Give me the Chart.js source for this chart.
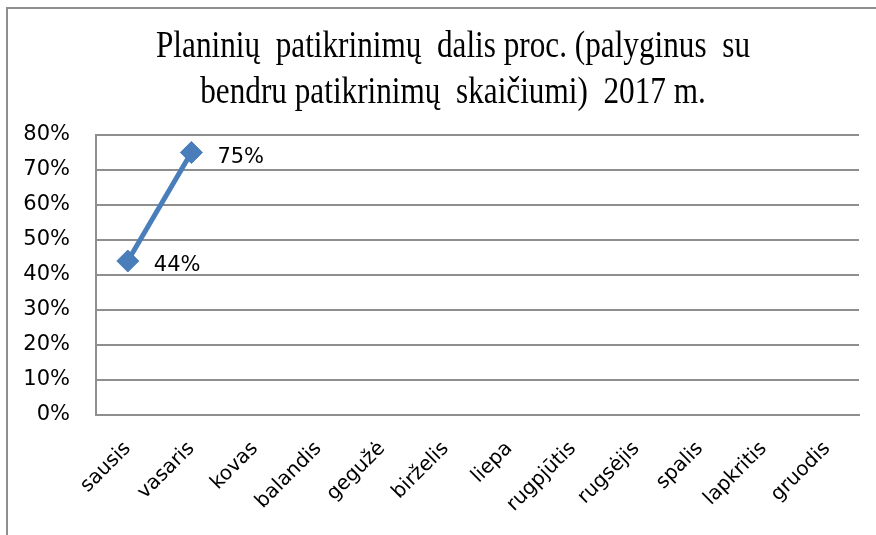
<!DOCTYPE html>
<html>
<head>
<meta charset="utf-8">
<script src="https://cdn.jsdelivr.net/npm/chart.js@4/dist/chart.umd.min.js"></script>
<style>
  html, body { margin: 0; padding: 0; background: #fff; }
  #wrap { position: relative; width: 876px; height: 535px; }
  #frame { position: absolute; left: 6px; top: 7px; width: 880px; height: 540px;
           border-left: 2px solid #8e8e8e; border-top: 2px solid #8e8e8e; pointer-events: none; }
  canvas { position: absolute; left: 0; top: 0; }
</style>
</head>
<body>
<div id="wrap">
  <canvas id="c" width="876" height="535"></canvas>
  <div id="frame"></div>
</div>
<script>
// ---- data ----
const months = ['sausis','vasaris','kovas','balandis','gegužė','birželis','liepa','rugpjūtis','rugsėjis','spalis','lapkritis','gruodis'];
const shares = [0.44, 0.75, null, null, null, null, null, null, null, null, null, null];
const dataLabels = ['44%', '75%'];
const titleLines = ['Planinių  patikrinimų  dalis proc. (palyginus  su', 'bendru patikrinimų  skaičiumi)  2017 m.'];
const yTickMax = 0.8;
const yTickStep = 0.1;

const SANS = 'DejaVu Sans';

const titlePlugin = {
  id: 'scaledTitle',
  afterDraw(chart) {
    const ctx = chart.ctx;
    ctx.save();
    ctx.font = '37px "Liberation Serif"';
    ctx.fillStyle = '#000';
    ctx.textAlign = 'center';
    ctx.textBaseline = 'alphabetic';
    const w1 = ctx.measureText(titleLines[0]).width;
    const sx = 594 / w1;
    const baselines = [57, 103];
    titleLines.forEach((t, i) => {
      ctx.save();
      ctx.translate(453, baselines[i]);
      ctx.scale(sx, 1);
      ctx.fillText(t, 0, 0);
      ctx.restore();
    });
    ctx.restore();
  }
};

const labelPlugin = {
  id: 'pointLabels',
  afterDatasetsDraw(chart) {
    const ctx = chart.ctx;
    const meta = chart.getDatasetMeta(0);
    ctx.save();
    ctx.font = '21px "' + SANS + '"';
    ctx.fillStyle = '#000';
    ctx.textAlign = 'left';
    ctx.textBaseline = 'middle';
    meta.data.forEach((pt, i) => {
      if (shares[i] == null) return;
      ctx.fillText(dataLabels[i], pt.x + 26, pt.y + 5);
    });
    ctx.restore();
  }
};

function build() {
  new Chart(document.getElementById('c'), {
    type: 'line',
    data: {
      labels: months,
      datasets: [{
        data: shares,
        borderColor: '#4a7ebb',
        backgroundColor: '#4a7ebb',
        borderWidth: 5,
        pointStyle: 'rectRot',
        pointRadius: 11,
        pointBorderWidth: 1,
        pointBorderColor: '#4a7ebb',
        pointBackgroundColor: '#4a7ebb',
        spanGaps: false,
        tension: 0
      }]
    },
    options: {
      responsive: false,
      animation: false,
      events: [],
      layout: { padding: { top: 135, right: 17, left: 0, bottom: 0 } },
      plugins: { legend: { display: false }, title: { display: false }, tooltip: { enabled: false } },
      scales: {
        x: {
          type: 'category',
          offset: true,
          grid: { display: false, drawTicks: false },
          border: { display: true, color: '#8e8e8e', width: 2 },
          ticks: {
            color: '#000',
            font: { family: SANS, size: 20 },
            minRotation: 45, maxRotation: 45,
            padding: 22,
            autoSkip: false
          },
          afterFit(s) { s.height = 120; }
        },
        y: {
          min: 0, max: yTickMax,
          grid: { color: '#8e8e8e', lineWidth: 2, drawTicks: false },
          border: { display: true, color: '#8e8e8e', width: 2 },
          ticks: {
            stepSize: yTickStep,
            color: '#000',
            font: { family: SANS, size: 21 },
            padding: 26,
            callback: v => Math.round(v * 100) + '%'
          },
          afterFit(s) { s.width = 96; }
        }
      }
    },
    plugins: [titlePlugin, labelPlugin]
  });
}

Promise.all([
  document.fonts.load('21px "' + SANS + '"'),
  document.fonts.load('37px "Liberation Serif"')
]).then(build, build);
</script>
</body>
</html>
